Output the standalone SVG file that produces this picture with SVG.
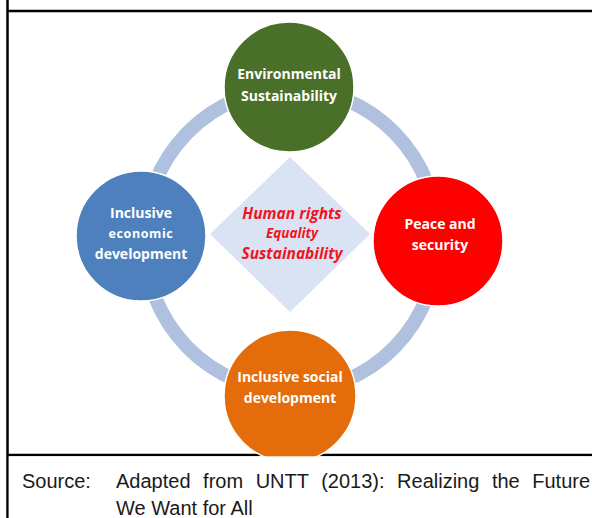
<svg xmlns="http://www.w3.org/2000/svg" width="592" height="518" viewBox="0 0 592 518">
<style>
.frame{stroke:#000;stroke-width:2.5;fill:none}
.ring{fill:none;stroke:#AFC1DE;stroke-width:14}
.node{stroke:#fff;stroke-width:1.5}
.lbl{font-family:"Open Sans","Liberation Sans",sans-serif;font-weight:bold;fill:#fff;text-anchor:middle;font-size:14px}
.small{font-size:12.5px;letter-spacing:0.6px}
.core{font-family:"Open Sans","Liberation Sans",sans-serif;font-weight:bold;font-style:italic;fill:#F0141E;text-anchor:middle;font-size:15.5px}
.src{font-family:"Liberation Sans",Arial,sans-serif;font-size:20px;fill:#1a1a1a}
</style>
<rect width="592" height="518" fill="#fff"/>
<g id="frame">
<line class="frame" x1="7.5" y1="0" x2="7.5" y2="518"/>
<line class="frame" x1="7" y1="11" x2="592" y2="11"/>
<line class="frame" x1="7" y1="455" x2="592" y2="455"/>
</g>
<g id="connectors">
<ellipse class="ring" cx="291" cy="240" rx="147" ry="151"/>
</g>
<g id="core">
<polygon points="290,157 370,234 290,312 210,234" fill="#DAE3F3"/>
<text class="core" x="292" y="219">Human rights</text>
<text class="core" x="292" y="238" style="font-size:13.5px">Equality</text>
<text class="core" x="292" y="259">Sustainability</text>
</g>
<g id="environmental">
<circle class="node" cx="289" cy="87" r="65" fill="#4A6F29"/>
<text class="lbl" x="289" y="79">Environmental</text>
<text class="lbl" x="289" y="101">Sustainability</text>
</g>
<g id="economic">
<circle class="node" cx="141" cy="236" r="65" fill="#4E80BD"/>
<text class="lbl" x="141" y="218">Inclusive</text>
<text class="lbl small" x="141" y="238">economic</text>
<text class="lbl" x="141" y="259">development</text>
</g>
<g id="peace">
<circle class="node" cx="438" cy="241" r="65" fill="#FF0000"/>
<text class="lbl" x="440" y="229">Peace and</text>
<text class="lbl" x="440" y="250">security</text>
</g>
<g id="social">
<circle class="node" cx="290" cy="396" r="66" fill="#E46C0A"/>
<text class="lbl" x="290" y="382">Inclusive social</text>
<text class="lbl" x="290" y="403">development</text>
</g>
<rect x="8.8" y="456.3" width="583" height="62" fill="#fff"/>
<g id="source">
<text class="src" x="22" y="488">Source:</text>
<text class="src" x="116" y="488" word-spacing="7">Adapted from UNTT (2013): Realizing the Future</text>
<text class="src" x="116" y="515">We Want for All</text>
</g>
</svg>
